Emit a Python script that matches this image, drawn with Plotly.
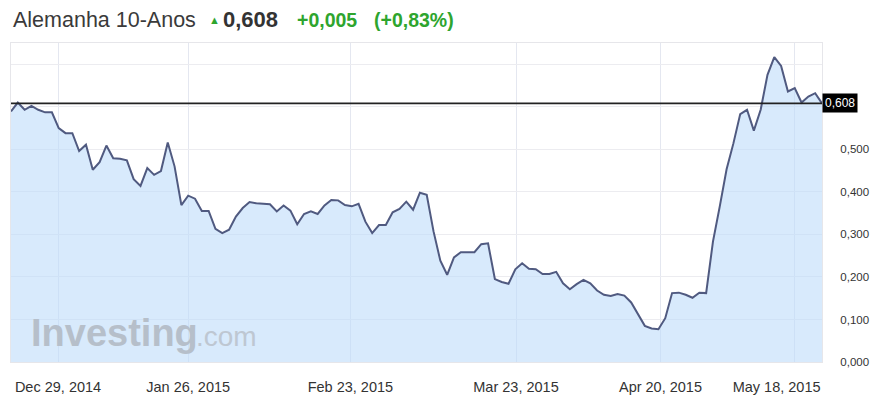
import plotly.graph_objects as go

# ---------------- data ----------------
title_name = "Alemanha 10-Anos"
last_value = 0.608
last_label = "0,608"
change_abs = "+0,005"
change_pct = "(+0,83%)"

yields = [
    0.589, 0.610, 0.593, 0.602, 0.593, 0.587, 0.587, 0.550, 0.538, 0.538,
    0.496, 0.511, 0.452, 0.470, 0.509, 0.479, 0.478, 0.474, 0.430, 0.414,
    0.456, 0.440, 0.449, 0.516, 0.460, 0.369,
    0.391, 0.384, 0.355, 0.355, 0.313, 0.303, 0.311, 0.342, 0.362, 0.376,
    0.373, 0.372, 0.371, 0.354, 0.368, 0.356, 0.324, 0.348, 0.354, 0.348,
    0.368, 0.381, 0.380, 0.369, 0.366,
    0.372, 0.330, 0.303, 0.322, 0.322, 0.352, 0.360, 0.377, 0.358, 0.398,
    0.393, 0.307, 0.238, 0.205, 0.246, 0.258, 0.258, 0.258, 0.277, 0.279,
    0.195, 0.188, 0.184, 0.218, 0.232,
    0.219, 0.218, 0.207, 0.207, 0.212, 0.185, 0.171, 0.183, 0.193, 0.185,
    0.168, 0.158, 0.155, 0.160, 0.156, 0.140, 0.111, 0.085, 0.079, 0.077,
    0.103, 0.162, 0.163, 0.158, 0.151,
    0.163, 0.162, 0.283, 0.366, 0.453, 0.514, 0.583, 0.593, 0.544, 0.593,
    0.675, 0.717, 0.696, 0.636, 0.644, 0.610, 0.624, 0.632, 0.608,
]
day_index = list(range(len(yields)))

tick_index = [6.9, 26.0, 49.8, 74.1, 95.3, 115.0]
tick_labels = ["Dec 29, 2014", "Jan 26, 2015", "Feb 23, 2015",
               "Mar 23, 2015", "Apr 20, 2015",
               "May 18, 2015" + "\u00a0" * 9]

y_ticks = [0.0, 0.1, 0.2, 0.3, 0.4, 0.5, 0.6, 0.7]
y_tick_labels = ["0,000", "0,100", "0,200", "0,300", "0,400", "0,500", "", ""]

# ---------------- layout geometry ----------------
# the page body has an 8px margin, so the figure is drawn 8px smaller on
# each side and all reference pixel positions are shifted by that offset
OFF = 8
W, H = 880 - 2 * OFF, 414 - 2 * OFF
PLOT_L, PLOT_R, PLOT_T, PLOT_B = 11, 822, 43, 362   # reference pixels
L, T = PLOT_L - OFF, PLOT_T - OFF
R, B = W - (PLOT_R - OFF), H - (PLOT_B - OFF)
PW, PH = PLOT_R - PLOT_L, PLOT_B - PLOT_T


def px_x(x):
    return (x - PLOT_L) / PW


def px_y(y):
    return (PLOT_B - y) / PH


FONT = "Liberation Sans, Arial, sans-serif"
GREEN = "#2ea52e"

fig = go.Figure()
fig.add_trace(go.Scatter(
    x=day_index, y=yields, mode="lines",
    line=dict(color="#505a80", width=2),
    fill="tozeroy", fillcolor="rgba(190,220,250,0.6)",
    hoverinfo="skip", showlegend=False,
))

fig.add_shape(type="line", xref="paper", x0=0, x1=1, yref="y",
              y0=last_value, y1=last_value,
              line=dict(color="#222222", width=1.6), layer="above")

annotations = [
    dict(text=title_name, x=px_x(11), y=px_y(20), xanchor="left",
         yanchor="middle", font=dict(size=21.5, color="#3a3a3a", family=FONT)),
    dict(text="\u25b2", x=px_x(207), y=px_y(20), xanchor="left",
         yanchor="middle", font=dict(size=11, color=GREEN, family=FONT)),
    dict(text="<b>" + last_label + "</b>", x=px_x(221), y=px_y(20),
         xanchor="left", yanchor="middle",
         font=dict(size=22, color="#333333", family=FONT)),
    dict(text="<b>" + change_abs + "</b>", x=px_x(295), y=px_y(20),
         xanchor="left", yanchor="middle",
         font=dict(size=19.5, color=GREEN, family=FONT)),
    dict(text="<b>" + change_pct + "</b>", x=px_x(372), y=px_y(20),
         xanchor="left", yanchor="middle",
         font=dict(size=19.5, color=GREEN, family=FONT)),
    dict(text="<b>Investing</b>", x=px_x(29), y=px_y(333), xanchor="left",
         yanchor="middle", font=dict(size=38, color="#b6bfca", family=FONT)),
    dict(text=".com", x=px_x(194), y=px_y(336), xanchor="left",
         yanchor="middle", font=dict(size=28, color="#bec7d2", family=FONT)),
    dict(text=last_label, xref="paper", x=1.0, yref="y", y=last_value,
         xanchor="left", yanchor="middle", bgcolor="#000000",
         borderpad=2, font=dict(size=12, color="#ffffff", family=FONT)),
]
for a in annotations:
    a.setdefault("xref", "paper")
    a.setdefault("yref", "paper")
    a["showarrow"] = False
    fig.add_annotation(**a)

# right page border
fig.add_shape(type="line", xref="paper", yref="paper",
              x0=px_x(878), x1=px_x(878), y0=px_y(0), y1=px_y(414),
              line=dict(color="#dddddd", width=1))

fig.update_layout(
    width=W, height=H, autosize=False,
    margin=dict(l=L, r=R, t=T, b=B, pad=0),
    paper_bgcolor="white", plot_bgcolor="white",
    font=dict(family=FONT, color="#333333"),
    xaxis=dict(range=[0, len(yields) - 1], tickmode="array",
               tickvals=tick_index, ticktext=tick_labels,
               showgrid=True, gridcolor="#e4e7f0", gridwidth=1,
               zeroline=False, showline=True, linecolor="#e6e6ea",
               mirror=True, ticks="", ticklabelstandoff=12,
               tickfont=dict(size=14.5, color="#333333")),
    yaxis=dict(range=[0, 0.75], side="right", tickmode="array",
               tickvals=y_ticks, ticktext=y_tick_labels,
               showgrid=True, gridcolor="#ececf0", gridwidth=1,
               zeroline=False, showline=True, linecolor="#e6e6ea",
               mirror=True, ticks="", ticklabelstandoff=15,
               tickfont=dict(size=11.5, color="#333333")),
)

fig.write_html("out.html")
